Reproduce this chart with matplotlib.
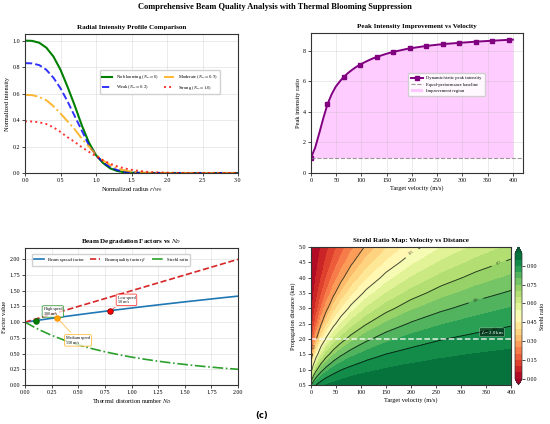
import numpy as np
import matplotlib
matplotlib.use("Agg")
import matplotlib.pyplot as plt

plt.rcParams['font.family'] = ['Liberation Serif', 'DejaVu Serif']
plt.rcParams['mathtext.fontset'] = 'stix'
plt.rcParams['axes.linewidth'] = 0.8
plt.rcParams['axes.edgecolor'] = '#333333'
plt.rcParams['xtick.major.size'] = 2
plt.rcParams['ytick.major.size'] = 2
plt.rcParams['xtick.major.width'] = 0.5
plt.rcParams['ytick.major.width'] = 0.5
plt.rcParams['xtick.major.pad'] = 1.5
plt.rcParams['ytick.major.pad'] = 1.5
plt.rcParams['xtick.labelsize'] = 4.3
plt.rcParams['ytick.labelsize'] = 4.3
plt.rcParams['axes.labelsize'] = 4.6
plt.rcParams['axes.labelpad'] = 1.5

# ---------------- data ----------------
# Panel 1: radial intensity profiles
radius = np.linspace(0, 3, 31)
I_none = [1.0, 0.998, 0.984, 0.947, 0.88, 0.78, 0.65, 0.51, 0.36, 0.23, 0.135,
          0.075, 0.035, 0.015, 0.006, 0.002, 0.001, 0, 0, 0, 0, 0, 0, 0, 0, 0, 0, 0, 0, 0, 0]
I_weak = [0.83, 0.828, 0.815, 0.78, 0.72, 0.64, 0.54, 0.43, 0.32, 0.21, 0.135,
          0.08, 0.045, 0.022, 0.01, 0.004, 0.002, 0, 0, 0, 0, 0, 0, 0, 0, 0, 0, 0, 0, 0, 0]
I_moderate = [0.59, 0.588, 0.575, 0.55, 0.505, 0.45, 0.39, 0.33, 0.26, 0.20, 0.14,
              0.095, 0.06, 0.035, 0.02, 0.01, 0.005, 0.002, 0.001, 0, 0, 0, 0, 0, 0, 0, 0, 0, 0, 0, 0]
I_strong = [0.39, 0.389, 0.383, 0.37, 0.345, 0.31, 0.27, 0.235, 0.195, 0.16, 0.125,
            0.095, 0.07, 0.05, 0.035, 0.024, 0.016, 0.01, 0.006, 0.004, 0.002, 0.001, 0, 0, 0, 0, 0, 0, 0, 0, 0]
profile_labels = ['No blooming ($N_D = 0$)', 'Weak ($N_D = 0.2$)',
                  'Moderate ($N_D = 0.5$)', 'Strong ($N_D = 1.0$)']

# Panel 2: peak intensity ratio vs velocity
velocity = np.linspace(0, 400, 50)
peak_ratio = [1.00, 1.65, 2.6, 3.6, 4.5, 5.15, 5.65, 6.0, 6.3, 6.55,
              6.76, 6.95, 7.1, 7.25, 7.38, 7.5, 7.6, 7.69, 7.78, 7.86,
              7.93, 7.99, 8.05, 8.11, 8.16, 8.2, 8.24, 8.28, 8.32, 8.35,
              8.38, 8.41, 8.43, 8.46, 8.48, 8.5, 8.52, 8.54, 8.56, 8.58,
              8.6, 8.615, 8.63, 8.645, 8.66, 8.675, 8.69, 8.705, 8.72, 8.73]

# Panel 3: degradation factors vs N_D
Nd = [0, 0.125, 0.25, 0.375, 0.5, 0.625, 0.75, 0.875, 1.0, 1.125, 1.25,
      1.375, 1.5, 1.625, 1.75, 1.875, 2.0]
spread = [1.000, 1.031, 1.061, 1.090, 1.118, 1.146, 1.173, 1.199, 1.225, 1.250,
          1.275, 1.299, 1.323, 1.346, 1.369, 1.392, 1.414]
quality = [1.0, 1.0625, 1.125, 1.1875, 1.25, 1.3125, 1.375, 1.4375, 1.5, 1.5625,
           1.625, 1.6875, 1.75, 1.8125, 1.875, 1.9375, 2.0]
strehl = [1.0, 0.886, 0.790, 0.709, 0.640, 0.580, 0.529, 0.484, 0.444, 0.410,
          0.379, 0.351, 0.327, 0.304, 0.284, 0.266, 0.25]
op_labels = ['High speed\n300 m/s', 'Medium speed\n150 m/s', 'Low speed\n50 m/s']
op_Nd = [0.1, 0.3, 0.8]
op_spread = [1.025, 1.072, 1.183]
op_text_xy = [(0.175, 1.17), (0.385, 0.71), (0.87, 1.355)]
op_colors = ['green', 'orange', 'red']
op_edges = ['darkgreen', 'darkorange', 'darkred']

# Panel 4: Strehl ratio map
map_v = [0, 5, 10, 20, 30, 45, 60, 80, 110, 150, 200, 260, 330, 400]
map_L = [0.5, 0.75, 1.0, 1.25, 1.5, 2.0, 2.5, 3.0, 3.5, 4.0, 4.5, 5.0]
map_S = [
    [.790, .865, .901, .935, .952, .965, .973, .979, .984, .988, .991, .993, .994, .995],
    [.609, .732, .796, .863, .896, .924, .940, .953, .965, .974, .980, .984, .988, .990],
    [.444, .592, .678, .774, .826, .871, .898, .919, .939, .954, .965, .973, .978, .982],
    [.315, .464, .561, .680, .748, .809, .847, .878, .907, .930, .946, .958, .966, .972],
    [.221, .356, .455, .586, .666, .742, .790, .832, .870, .901, .923, .940, .952, .960],
    [.111, .207, .290, .419, .510, .605, .669, .729, .786, .834, .870, .897, .917, .930],
    [.059, .121, .183, .291, .379, .478, .551, .622, .695, .758, .807, .845, .874, .894],
    [.033, .073, .117, .202, .277, .371, .444, .521, .604, .678, .740, .788, .826, .853],
    [.020, .046, .076, .140, .202, .284, .354, .430, .517, .599, .670, .728, .775, .808],
    [.012, .030, .051, .099, .148, .218, .280, .352, .438, .524, .602, .667, .721, .760],
    [.008, .020, .035, .071, .109, .167, .221, .287, .369, .455, .536, .607, .666, .711],
    [.005, .014, .025, .051, .082, .129, .175, .233, .309, .393, .474, .548, .612, .661],
]
contour_levels = [0.3, 0.5, 0.7, 0.8, 0.9]
contour_label_pos = [(10, 1.75), (200, 4.85), (375, 4.5), (330, 3.25), (370, 2.25)]
ref_distance = 2.0

# ---------------- figure ----------------
W, H = 550, 424
fig = plt.figure(figsize=(5.5, 4.24), dpi=100)


def box(l, t, r, b):
    return [l / W, 1 - b / H, (r - l) / W, (b - t) / H]


ax1 = fig.add_axes(box(25, 34, 238, 173))
ax2 = fig.add_axes(box(311, 33, 523, 173))
ax3 = fig.add_axes(box(25, 248, 238, 385))
ax4 = fig.add_axes(box(311, 247, 511, 385))
cax = fig.add_axes(box(515, 247, 522, 385))

fig.text(0.5, 0.992, 'Comprehensive Beam Quality Analysis with Thermal Blooming Suppression',
         ha='center', va='top', fontsize=6.0, fontweight='bold')

title_kw = dict(fontsize=5.0, fontweight='bold', pad=3.5)
grid_kw = dict(color='#b0b0b0', alpha=0.35, linewidth=0.5)

# Panel 1
ax1.plot(radius, I_none, color='green', lw=1.5, ls='-', label=profile_labels[0])
ax1.plot(radius, I_weak, color='blue', lw=1.4, ls='--', alpha=0.8, label=profile_labels[1])
ax1.plot(radius, I_moderate, color='orange', lw=1.4, ls='-.', alpha=0.8, label=profile_labels[2])
ax1.plot(radius, I_strong, color='red', lw=1.4, ls=':', alpha=0.8, label=profile_labels[3])
ax1.set_xlim(0, 3)
ax1.set_ylim(0, 1.05)
ax1.set_xlabel('Normalized radius $r/w_0$')
ax1.set_ylabel('Normalized intensity')
ax1.set_title('Radial Intensity Profile Comparison', **title_kw)
ax1.grid(True, **grid_kw)
ax1.legend(loc='center right', bbox_to_anchor=(0.925, 0.655), ncol=2, fontsize=3.3,
           handlelength=2.2, columnspacing=1.1, borderpad=0.5, framealpha=0.9)

# Panel 2
ax2.plot(velocity, peak_ratio, color='purple', lw=1.4, marker='s', markersize=2.3,
         markevery=4, label='Dynamic/static peak intensity')
ax2.axhline(1.0, color='gray', ls='--', lw=0.8, alpha=0.8, label='Equal-performance baseline')
ax2.fill_between(velocity, 1.0, peak_ratio, color='magenta', alpha=0.2, lw=0,
                 label='Improvement region')
ax2.set_xlim(0, 420)
ax2.set_ylim(0, max(peak_ratio) * 1.05)
ax2.set_xticks(np.arange(0, 401, 50))
ax2.set_xlabel('Target velocity (m/s)')
ax2.set_ylabel('Peak intensity ratio')
ax2.set_title('Peak Intensity Improvement vs Velocity', **title_kw)
ax2.grid(True, **grid_kw)
ax2.legend(loc='center right', bbox_to_anchor=(0.83, 0.63), fontsize=3.3,
           handlelength=2.6, borderpad=0.6, framealpha=0.9)

# Panel 3
ax3.plot(Nd, spread, color='#1f77b4', lw=1.2, ls='-', label='Beam spread factor')
ax3.plot(Nd, quality, color='#d62728', lw=1.2, ls='--', label=r'Beam quality factor $\beta$')
ax3.plot(Nd, strehl, color='#2ca02c', lw=1.2, ls='-.', label='Strehl ratio')
for lab, x, y, txy, c, ec in zip(op_labels, op_Nd, op_spread, op_text_xy, op_colors, op_edges):
    ax3.plot(x, y, 'o', color=c, markersize=4, markeredgecolor=ec, markeredgewidth=0.6, zorder=5)
    ax3.annotate(lab, xy=(x, y), xytext=txy, fontsize=3, va='center', ha='left',
                 bbox=dict(boxstyle='round,pad=0.35', facecolor='white', edgecolor=c,
                           alpha=0.75, linewidth=0.6),
                 arrowprops=dict(arrowstyle='-', color=c, lw=0.6, alpha=0.7))
ax3.set_xlim(0, 2)
ax3.set_ylim(0, 2.18)
ax3.set_xticks(np.arange(0, 2.01, 0.25))
ax3.set_yticks(np.arange(0, 2.01, 0.25))
ax3.xaxis.set_major_formatter(matplotlib.ticker.FormatStrFormatter('%.2f'))
ax3.yaxis.set_major_formatter(matplotlib.ticker.FormatStrFormatter('%.2f'))
ax3.set_xlabel('Thermal distortion number $N_D$')
ax3.set_ylabel('Factor value')
ax3.set_title('Beam Degradation Factors vs $N_D$', **title_kw)
ax3.grid(True, **grid_kw)
ax3.legend(loc='upper left', bbox_to_anchor=(0.02, 0.975), ncol=3, fontsize=3.3,
           handlelength=2.3, columnspacing=1.3, borderpad=0.5, framealpha=0.9)

# Panel 4
cf = ax4.contourf(map_v, map_L, map_S, levels=np.linspace(0, 1, 21), cmap='RdYlGn', extend='both')
cs = ax4.contour(map_v, map_L, map_S, levels=contour_levels, colors='black', linewidths=0.7, alpha=0.7)
ax4.clabel(cs, inline=True, fontsize=3.2, fmt='%.1f', manual=contour_label_pos)
ax4.axhline(ref_distance, color='white', ls='--', lw=1.1, alpha=0.85)
ax4.text(362, ref_distance + 0.22, f'$L$ = {ref_distance} km', color='white', fontsize=3.4,
         ha='center', va='center',
         bbox=dict(boxstyle='round,pad=0.2', facecolor='black', alpha=0.5, edgecolor='white', linewidth=0.4))
ax4.set_xlim(0, 400)
ax4.set_ylim(0.5, 5.0)
ax4.set_xticks(np.arange(0, 401, 50))
ax4.set_yticks(np.arange(0.5, 5.01, 0.5))
ax4.set_xlabel('Target velocity (m/s)')
ax4.set_ylabel('Propagation distance (km)')
ax4.set_title('Strehl Ratio Map: Velocity vs Distance', **title_kw)
cb = fig.colorbar(cf, cax=cax, ticks=[0, 0.15, 0.30, 0.45, 0.60, 0.75, 0.90])
cb.ax.yaxis.set_major_formatter(matplotlib.ticker.FormatStrFormatter('%.2f'))
cb.ax.tick_params(labelsize=4.3, size=2, width=0.5, pad=1.5)
cb.set_label('Strehl ratio', fontsize=4.3, labelpad=2)
cb.outline.set_linewidth(0.5)

fig.text(0.475, 0.021, '(c)', ha='center', va='center', fontsize=6, fontweight='bold',
         family='DejaVu Sans')

fig.savefig('out.png', dpi=100)
